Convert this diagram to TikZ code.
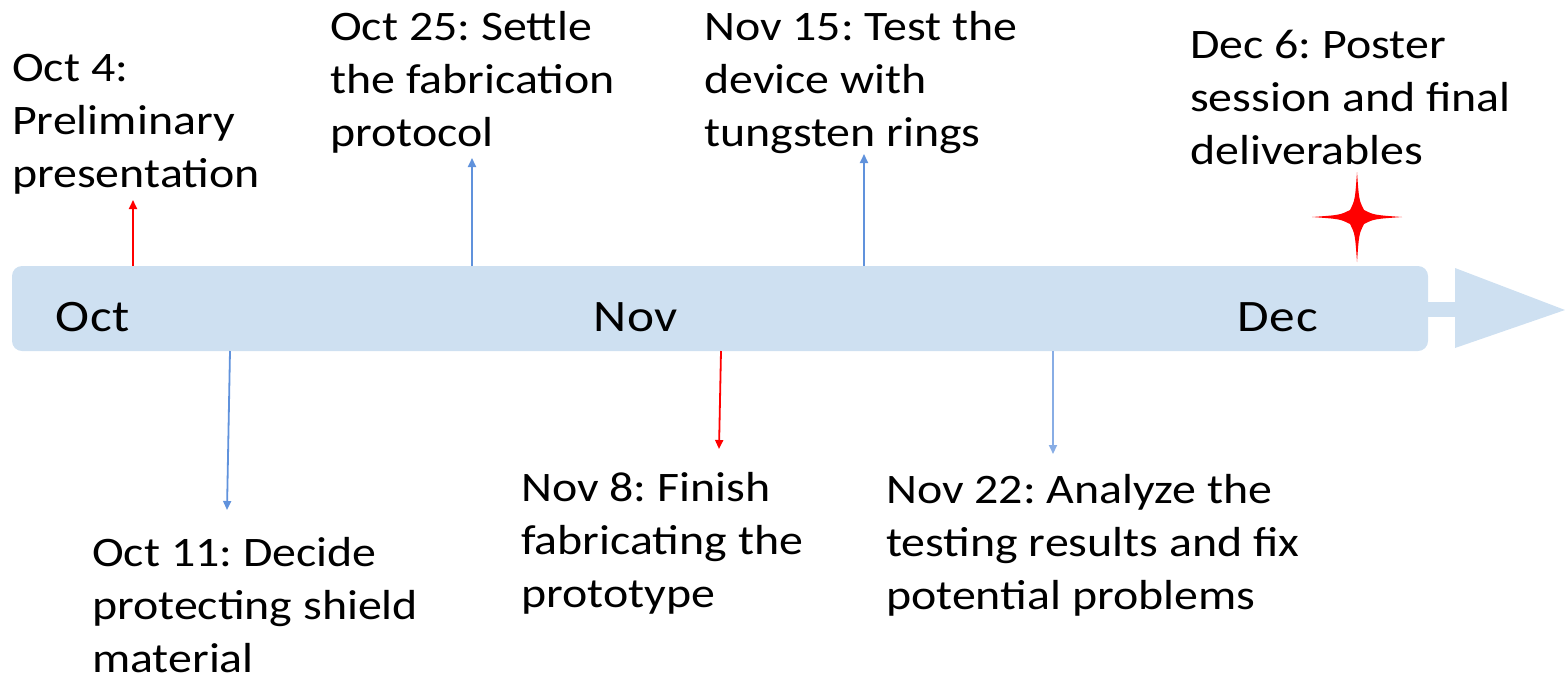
\documentclass[tikz,border=0pt]{standalone}
\usepackage{fontspec}
\setmainfont{Carlito}
\newfontfamily\lblfont[FakeStretch=1.14]{Carlito}
\newfontfamily\monfont[FakeStretch=1.14,LetterSpace=2]{Carlito}
\usetikzlibrary{arrows.meta}
\definecolor{barblue}{RGB}{206,224,241}
\definecolor{arrblue}{RGB}{96,146,220}
\definecolor{starred}{RGB}{255,0,0}
\tikzset{
  lbl/.style={anchor=north west, inner sep=0pt, align=left,
    font=\lblfont\frenchspacing\fontsize{42pt}{53pt}\selectfont},
  month/.style={anchor=base west, inner sep=0pt, font=\monfont\fontsize{45pt}{53pt}\selectfont},
  redarr/.style={draw=starred, line width=1.8pt, -{Triangle[width=8pt,length=9pt]}},
  bluearr/.style={draw=arrblue, line width=1.8pt, -{Triangle[width=8pt,length=9pt]}},
}
\newcommand{\fs}{\rule{0pt}{36pt}}
\begin{document}
\begin{tikzpicture}[x=1pt,y=-1pt]
\useasboundingbox (0,0) rectangle (1565,678);
% timeline bar
\fill[barblue, rounded corners=10pt] (12,266) rectangle (1428,351);
\fill[barblue] (1426,302) rectangle (1457,317);
\fill[barblue] (1455,268) -- (1565,310) -- (1455,348) -- cycle;
% star
\fill[starred] (1357,172) .. controls (1359,200) .. (1364,210) .. controls (1374,215) .. (1402,217)
  .. controls (1374,219) .. (1364,224) .. controls (1359,234) .. (1357,262)
  .. controls (1355,234) .. (1350,224) .. controls (1340,219) .. (1312,217)
  .. controls (1340,215) .. (1350,210) .. controls (1355,200) .. (1357,172) -- cycle;
% months
\node[month] (oct) at (55,331) {Oct};
\node[month] (nov) at (593,331) {Nov};
\node[month] (dec) at (1237,331) {Dec};
% labels
\node[lbl] (l1) at (12,81-36) {\fs Oct 4:\\Preliminary\\presentation};
\node[lbl] (l2) at (330,40-36) {\fs Oct 25: Settle\\the fabrication\\protocol};
\node[lbl] (l3) at (704,40-36) {\fs Nov 15: Test the\\device with\\tungsten rings};
\node[lbl] (l4) at (1190,58-36) {\fs Dec 6: Poster\\session and final\\deliverables};
\node[lbl] (l5) at (92,566-36) {\fs Oct 11: Decide\\protecting shield\\material};
\node[lbl] (l6) at (521,501-36) {\fs Nov 8: Finish\\fabricating the\\prototype};
\node[lbl] (l7) at (886,503-36) {\fs Nov 22: Analyze the\\testing results and fix\\potential problems};
% arrow endpoints
\coordinate (a1s) at (133,266); \coordinate (a1e) at (133,200);
\coordinate (a2s) at (472,266); \coordinate (a2e) at (472,158);
\coordinate (a3s) at (864,266); \coordinate (a3e) at (864,154);
\coordinate (b1s) at (230,351); \coordinate (b1e) at (227,510);
\coordinate (b2s) at (721,351); \coordinate (b2e) at (719,449);
\coordinate (b3s) at (1053,351); \coordinate (b3e) at (1053,454);
\draw[redarr] (a1s) -- (a1e);
\draw[bluearr] (a2s) -- (a2e);
\draw[bluearr] (a3s) -- (a3e);
\draw[bluearr] (b1s) -- (b1e);
\draw[redarr] (b2s) -- (b2e);
\draw[bluearr, draw=arrblue!75] (b3s) -- (b3e);
\end{tikzpicture}
\end{document}
